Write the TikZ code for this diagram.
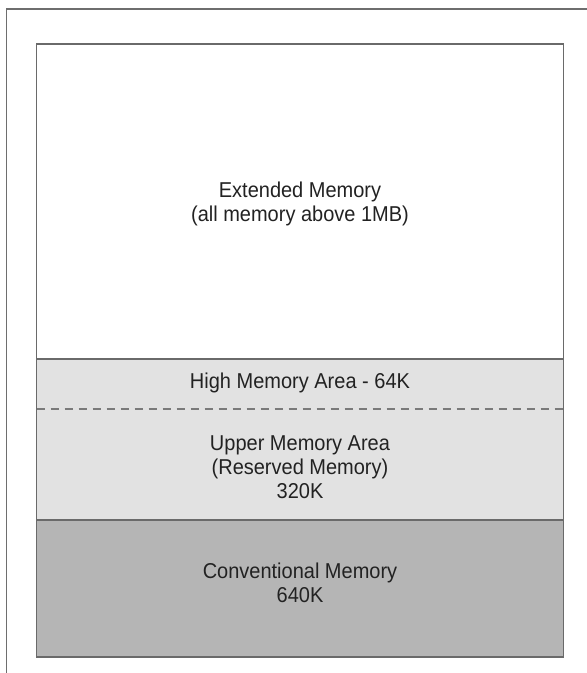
\documentclass[tikz,border=0pt]{standalone}
\usepackage{fontspec}
\setmainfont[FakeStretch=0.93]{Liberation Sans}
\definecolor{framegray}{HTML}{6E6E6E}
\definecolor{boxgray}{HTML}{6A6A6A}
\definecolor{dashgray}{HTML}{7A7A7A}
\definecolor{lightmem}{HTML}{E2E2E2}
\definecolor{convmem}{HTML}{B5B5B5}
\definecolor{textgray}{HTML}{222222}
\begin{document}
\begin{tikzpicture}[x=1pt,y=-1pt,
  frame/.style={draw=framegray, line width=1.3pt},
  region/.style={draw=boxgray, line width=1.8pt},
  dashline/.style={draw=dashgray, line width=1.5pt, dash pattern=on 8pt off 6pt},
  memlabel/.style={text=textgray, font=\fontsize{21.5}{24}\selectfont, inner sep=0pt, anchor=base}]
\useasboundingbox (0,0) rectangle (587,673);
\fill[white] (0,0) rectangle (587,673);
% outer (cropped) frame
\draw[frame] (587,9) -- (6.5,9) -- (6.5,673);
% regions
\fill[white] (36.5,44) rectangle (563.5,359);
\fill[lightmem] (36.5,359) rectangle (563.5,520);
\fill[convmem] (36.5,520) rectangle (563.5,657);
\draw[region] (36.5,359) -- (563.5,359);
\draw[region] (36.5,520) -- (563.5,520);
\draw[dashline] (36.5,409) -- (563.5,409);
\draw[region] (36.5,44) rectangle (563.5,657);
% labels
\node[memlabel] (ext) at (300,197) {\begin{tabular}[t]{@{}c@{}}Extended Memory\\(all memory above 1MB)\end{tabular}};
\node[memlabel] (hma) at (300,388) {High Memory Area - 64K};
\node[memlabel] (uma) at (300,450) {\begin{tabular}[t]{@{}c@{}}Upper Memory Area\\(Reserved Memory)\\320K\end{tabular}};
\node[memlabel] (conv) at (300,578) {\begin{tabular}[t]{@{}c@{}}Conventional Memory\\640K\end{tabular}};
\end{tikzpicture}
\end{document}
